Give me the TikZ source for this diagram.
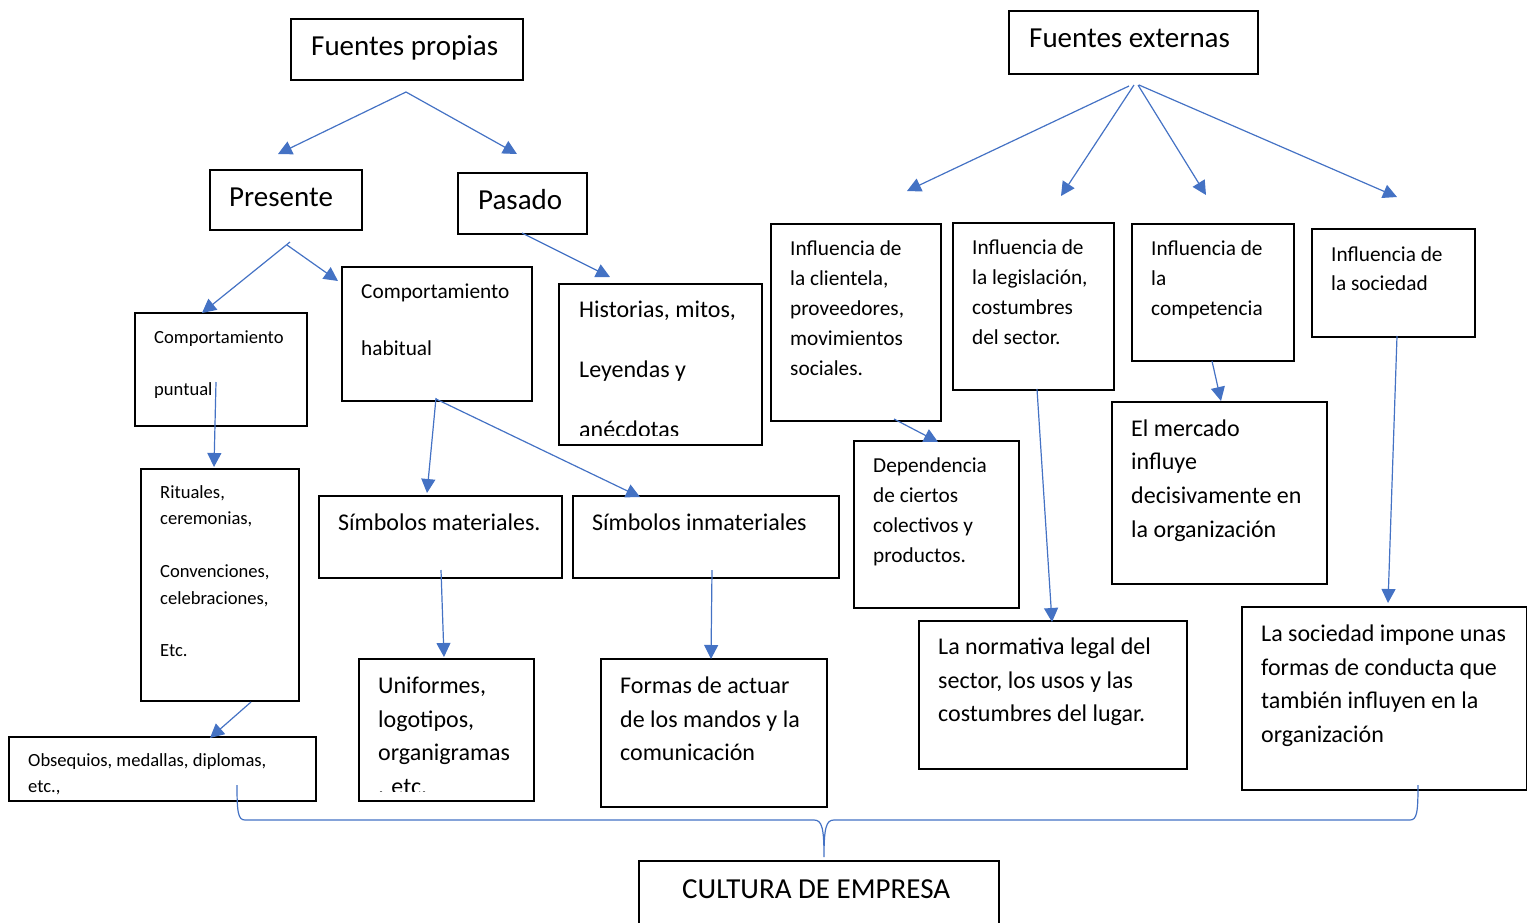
\documentclass[tikz,border=0pt]{standalone}
\usepackage{fontspec}
\setmainfont{Carlito}
\usetikzlibrary{arrows.meta}
\definecolor{arr}{HTML}{4472C4}
\newcommand\fsA{\fontsize{29}{35}\selectfont}
\newcommand\fsB{\fontsize{24}{29}\selectfont}
\newcommand\fsC{\fontsize{21.3}{26}\selectfont}
\newcommand\fsD{\fontsize{18.6}{22}\selectfont}
\tikzset{
  box/.style={draw=black, line width=1.7pt, inner sep=0pt, anchor=north west},
  txt/.style={anchor=west, inner sep=0pt, text height=0.75em, text depth=0.25em, text=black, yshift=-5.5pt},
  conn/.style={draw=arr, line width=1.2pt, -{Triangle[length=14pt,width=14pt]}},
  bracepath/.style={draw=arr, line width=1.2pt}
}
\newcommand\bx[5]{\node[box, minimum width={#4-#2}, minimum height={#5-#3}] (#1) at (#2,#3) {};}
\newcommand\txtlines[4]{\foreach \yy/\linetext [count=\i] in {#4} {\node[txt,font=#2] (#1-\i) at (#3,\yy) {\linetext};}}
\begin{document}
\begin{tikzpicture}[x=1pt,y=-1pt]
\useasboundingbox (0,0) rectangle (1527,922);
\clip (0,0) rectangle (1527,922);
% boxes
\bx{fp}{290}{18}{522}{79}
\bx{fe}{1008}{10}{1257}{73}
\bx{pres}{209}{169}{361}{229}
\bx{pas}{457}{172}{586}{233}
\bx{cpun}{134}{312}{306}{425}
\bx{chab}{341}{266}{531}{400}
\bx{hist}{558}{283}{761}{444}
\bx{icli}{770}{223}{940}{420}
\bx{ileg}{952}{222}{1113}{389}
\bx{icom}{1131}{223}{1293}{360}
\bx{isoc}{1311}{228}{1474}{336}
\bx{rit}{140}{468}{298}{700}
\bx{smat}{318}{495}{561}{577}
\bx{sinm}{572}{495}{838}{577}
\bx{dep}{853}{440}{1018}{607}
\bx{merc}{1111}{401}{1326}{583}
\bx{obs}{8}{736}{315}{800}
\bx{unif}{358}{658}{533}{800}
\bx{form}{600}{658}{826}{806}
\bx{norm}{918}{620}{1186}{768}
\bx{simp}{1241}{606}{1526}{789}
\bx{cult}{638}{860}{998}{935}
% titles
\node[txt,font=\fsA] (fp-t) at (311,47) {Fuentes propias};
\node[txt,font=\fsA] (fe-t) at (1029,39) {Fuentes externas};
\node[txt,font=\fsA] (pres-t) at (229,198) {Presente};
\node[txt,font=\fsA] (pas-t) at (478,201) {Pasado};
\node[txt,font=\fsA] (cult-t) at (682,890) {CULTURA DE EMPRESA};
% texts
\txtlines{cpunt}{\fsD}{154}{{335/Comportamiento},{387/puntual}}
\txtlines{chabt}{\fsC}{361}{{290/Comportamiento},{347/habitual}}
\begin{scope}
\clip (558,283) rectangle (761,435);
\txtlines{histt}{\fsB}{579}{{309/{Historias, mitos,}},{369/Leyendas y},{429/anécdotas}}
\end{scope}
\txtlines{iclit}{\fsC}{790}{{247/Influencia de},{277/{la clientela,}},{307/{proveedores,}},{337/movimientos},{367/sociales.}}
\txtlines{ilegt}{\fsC}{972}{{246/Influencia de},{276/{la legislación,}},{306/costumbres},{336/del sector.}}
\txtlines{icomt}{\fsC}{1151}{{247/Influencia de},{277/la},{307/competencia}}
\txtlines{isoct}{\fsC}{1331}{{253/Influencia de},{282/la sociedad}}
\txtlines{ritt}{\fsD}{160}{{490/{Rituales,}},{516/{ceremonias,}},{569/{Convenciones,}},{596/{celebraciones,}},{648/Etc.}}
\node[txt,font=\fsB] (smat-t) at (338,522) {Símbolos materiales.};
\node[txt,font=\fsB] (sinm-t) at (592,522) {Símbolos inmateriales};
\txtlines{dept}{\fsC}{873}{{464/Dependencia},{494/de ciertos},{524/colectivos y},{554/productos.}}
\txtlines{merct}{\fsB}{1131}{{428/El mercado},{461/influye},{495/decisivamente en},{529/la organización}}
\txtlines{obst}{\fsD}{28}{{758/{Obsequios, medallas, diplomas,}},{784/{etc.,}}}
\begin{scope}
\clip (358,658) rectangle (533,791);
\txtlines{unift}{\fsB}{378}{{685/{Uniformes,}},{719/{logotipos,}},{752/organigramas},{786/{. etc.}}}
\end{scope}
\txtlines{formt}{\fsB}{620}{{685/Formas de actuar},{719/de los mandos y la},{752/comunicación}}
\txtlines{normt}{\fsB}{938}{{646/La normativa legal del},{680/{sector, los usos y las}},{713/costumbres del lugar.}}
\txtlines{simpt}{\fsB}{1261}{{633/La sociedad impone unas},{667/formas de conducta que},{700/también influyen en la},{734/organización}}
% connector end points
\coordinate (c1s) at (406,92);   \coordinate (c1e) at (278,154);
\coordinate (c2e) at (517,154);
\coordinate (c3s) at (290,242);  \coordinate (c3e) at (202,313);
\coordinate (c4s) at (287,245);  \coordinate (c4e) at (338,281);
\coordinate (c5s) at (522,233);  \coordinate (c5e) at (610,277);
\coordinate (c6s) at (216,382);  \coordinate (c6e) at (214,467);
\coordinate (c7s) at (436,398);  \coordinate (c7e) at (427,493);
\coordinate (c8s) at (436,399);  \coordinate (c8e) at (640,497);
\coordinate (c9s) at (441,570);  \coordinate (c9e) at (444,657);
\coordinate (c10s) at (712,570); \coordinate (c10e) at (711,659);
\coordinate (c11s) at (251,702); \coordinate (c11e) at (210,738);
\coordinate (c12s) at (1129,86); \coordinate (c12e) at (907,191);
\coordinate (c13s) at (1134,85); \coordinate (c13e) at (1061,196);
\coordinate (c14s) at (1138,85); \coordinate (c14e) at (1206,195);
\coordinate (c15s) at (1139,85); \coordinate (c15e) at (1397,197);
\coordinate (c16s) at (1212,361); \coordinate (c16e) at (1221,401);
\coordinate (c17s) at (894,419); \coordinate (c17e) at (938,442);
\coordinate (c18s) at (1037,389); \coordinate (c18e) at (1052,622);
\coordinate (c19s) at (1397,336); \coordinate (c19e) at (1388,603);
\foreach \s/\e in {c1s/c1e,c1s/c2e,c3s/c3e,c4s/c4e,c5s/c5e,c6s/c6e,c7s/c7e,c8s/c8e,c9s/c9e,c10s/c10e,c11s/c11e,c12s/c12e,c13s/c13e,c14s/c14e,c15s/c15e,c16s/c16e,c17s/c17e,c18s/c18e,c19s/c19e}
  \draw[conn] (\s) -- (\e);
% brace
\coordinate (brl) at (237,785);
\coordinate (brm) at (824,857);
\coordinate (brr) at (1418,785);
\draw[bracepath] (brl) .. controls (237,812) and (238,820) .. (245,820) -- (814,820)
  .. controls (822,820) and (824,828) .. (brm)
  .. controls (824,828) and (826,820) .. (834,820) -- (1410,820)
  .. controls (1417,820) and (1418,812) .. (brr);
\end{tikzpicture}
\end{document}
